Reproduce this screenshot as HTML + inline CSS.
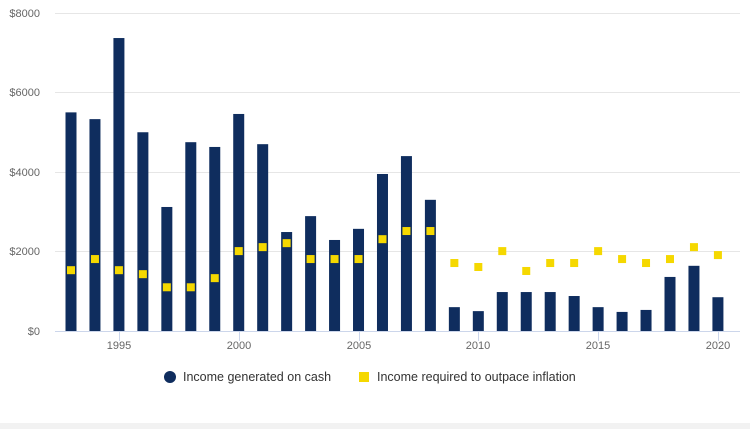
<!DOCTYPE html>
<html><head><meta charset="utf-8"><style>
body{margin:0;background:#fff;}
svg{display:block;font-family:"Liberation Sans",Arial,sans-serif;}
</style></head><body>
<svg width="750" height="429" viewBox="0 0 750 429" xmlns="http://www.w3.org/2000/svg">
<rect width="750" height="429" fill="#fff"/>
<g stroke="#e6e6e6" stroke-width="1">
<line x1="55" x2="740" y1="13.5" y2="13.5"/>
<line x1="55" x2="740" y1="92.5" y2="92.5"/>
<line x1="55" x2="740" y1="172.5" y2="172.5"/>
<line x1="55" x2="740" y1="251.5" y2="251.5"/>
</g>
<line x1="55" x2="740" y1="331.5" y2="331.5" stroke="#ccd6eb"/>
<g font-size="11" fill="#666" text-anchor="end">
<text x="40" y="17">$8000</text>
<text x="40" y="96">$6000</text>
<text x="40" y="176">$4000</text>
<text x="40" y="255">$2000</text>
<text x="40" y="335">$0</text>
</g>
<g font-size="11" fill="#666" text-anchor="middle">
<text x="119" y="349">1995</text>
<text x="239" y="349">2000</text>
<text x="359" y="349">2005</text>
<text x="478" y="349">2010</text>
<text x="598" y="349">2015</text>
<text x="718" y="349">2020</text>
</g>
<g stroke="#ccd6eb">
<line x1="119.5" x2="119.5" y1="331" y2="341"/><line x1="239.5" x2="239.5" y1="331" y2="341"/>
<line x1="359.5" x2="359.5" y1="331" y2="341"/><line x1="478.5" x2="478.5" y1="331" y2="341"/>
<line x1="598.5" x2="598.5" y1="331" y2="341"/><line x1="718.5" x2="718.5" y1="331" y2="341"/>
</g>
<g id="bars" fill="#0f2d5e"></g>
<g id="sq" fill="#f5d800"></g>
<circle cx="170" cy="377" r="6" fill="#0f2d5e"/>
<text x="183" y="381" font-size="12.5" fill="#333">Income generated on cash</text>
<rect x="359" y="372" width="10" height="10" fill="#f5d800"/>
<text x="377" y="381" font-size="12.5" fill="#333">Income required to outpace inflation</text>
<rect x="0" y="423" width="750" height="6" fill="#f2f2f2"/>
<script>
var b=[5500,5330,7370,5000,3120,4750,4630,5460,4700,2490,2890,2290,2570,3950,4400,3300,600,500,980,980,980,880,600,480,530,1360,1640,850];
var s=[1530,1810,1530,1430,1100,1100,1330,2010,2110,2210,1810,1810,1810,2310,2515,2515,1710,1610,2010,1510,1710,1710,2010,1810,1710,1810,2110,1910];
var ns="http://www.w3.org/2000/svg",k=318/8000;
for(var i=0;i<28;i++){var x=71+i*23.96;
var r=document.createElementNS(ns,"rect");var h=b[i]*k;
r.setAttribute("x",x-5.5);r.setAttribute("y",331-h);r.setAttribute("width",11);r.setAttribute("height",h);
document.getElementById("bars").appendChild(r);
var q=document.createElementNS(ns,"rect");var y=331-s[i]*k;
q.setAttribute("x",x-4);q.setAttribute("y",y-4);q.setAttribute("width",8);q.setAttribute("height",8);
document.getElementById("sq").appendChild(q);}
</script>
</svg>
</body></html>
